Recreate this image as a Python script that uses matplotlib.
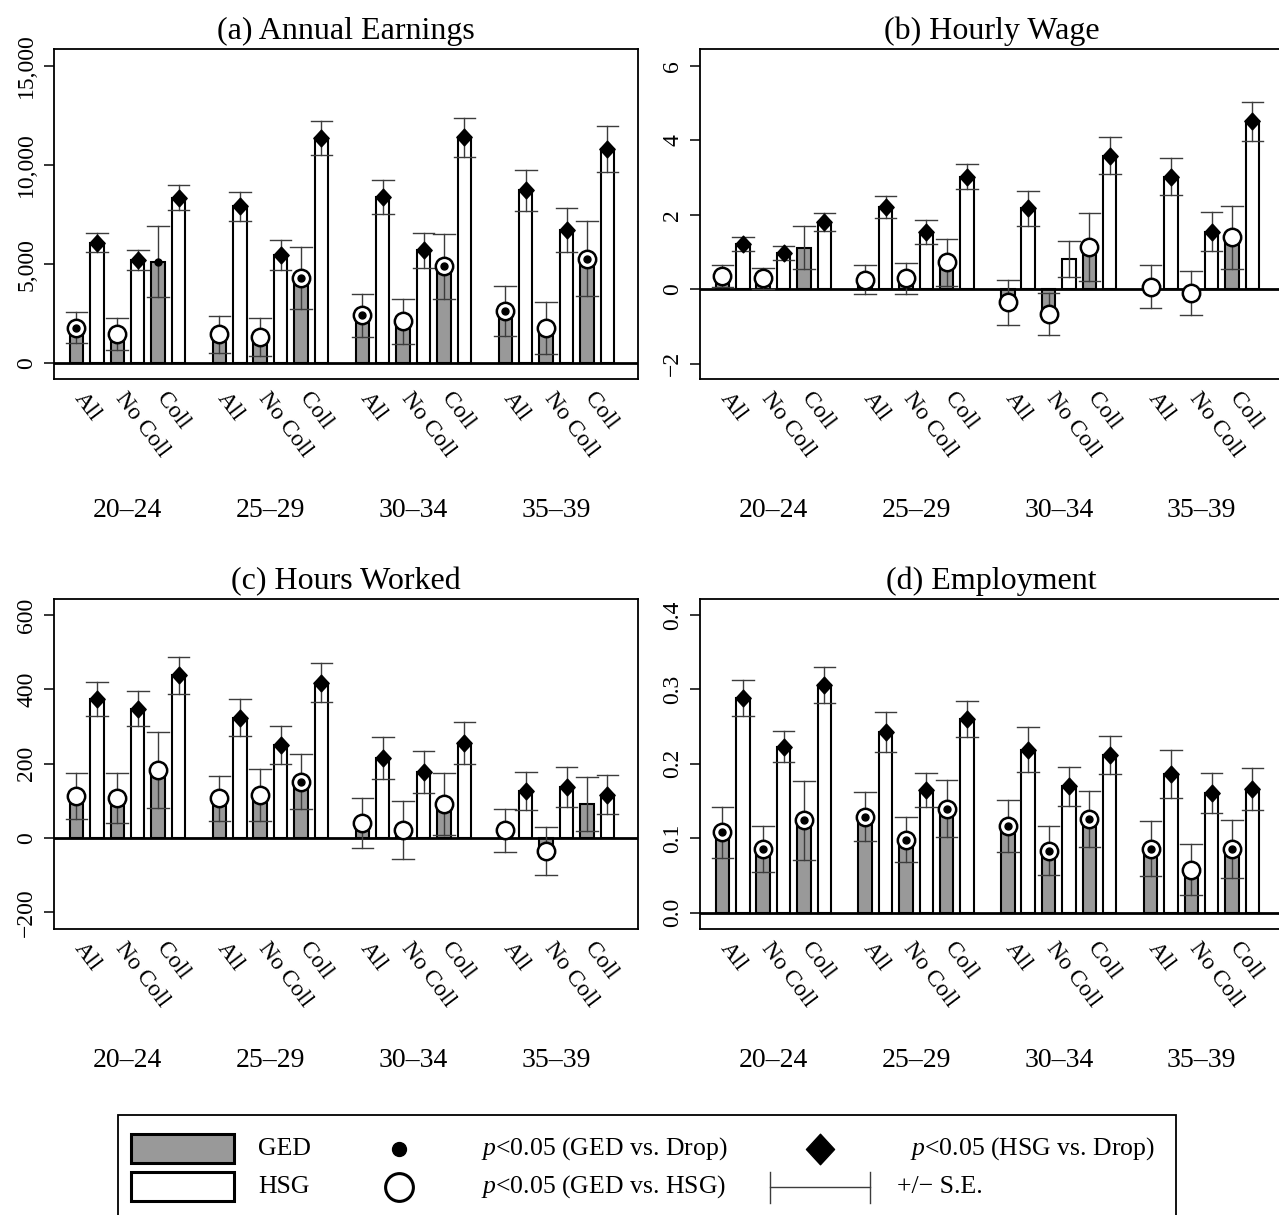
import matplotlib
matplotlib.use('Agg')
import matplotlib.pyplot as plt
import matplotlib.transforms as mtransforms
from matplotlib.path import Path
from matplotlib.patches import Rectangle
import numpy as np

plt.rcParams['font.family'] = ['Liberation Serif', 'DejaVu Serif']
plt.rcParams['mathtext.fontset'] = 'custom'
plt.rcParams['mathtext.rm'] = 'Liberation Serif'
plt.rcParams['mathtext.it'] = 'Liberation Serif:italic'

ages = ['20–24', '25–29', '30–34', '35–39']
groups = ['All', 'No Coll', 'Coll']

# each array: 20-24 (All, No Coll, Coll), 25-29 (...), 30-34 (...), 35-39 (...)
# (a) Annual Earnings
earn_ged = [1790, 1462, 5130, 1462, 1320, 4300, 2410, 2110, 4880, 2620, 1780, 5275]
earn_ged_se = [780, 806, 1780, 925, 950, 1547, 1067, 1135, 1622, 1252, 1328, 1874]
earn_hsg = [6080, 5205, 8350, 7905, 5445, 11370, 8380, 5690, 11385, 8712, 6720, 10788]
earn_hsg_se = [490, 496, 630, 731, 748, 866, 840, 900, 966, 1051, 1118, 1151]
earn_ged_sig = ['b', 'h', 'd', 'h', 'h', 'b', 'b', 'h', 'b', 'b', 'h', 'b']
earn_hsg_sig = [1] * 12

# (b) Hourly Wage
wage_ged = [0.36, 0.29, 1.11, 0.25, 0.29, 0.72, -0.35, -0.66, 1.14, 0.07, -0.10, 1.39]
wage_ged_se = [0.29, 0.29, 0.58, 0.39, 0.42, 0.62, 0.61, 0.56, 0.92, 0.58, 0.59, 0.84]
wage_hsg = [1.22, 0.97, 1.80, 2.20, 1.54, 3.02, 2.17, 0.82, 3.59, 3.02, 1.55, 4.51]
wage_hsg_se = [0.18, 0.18, 0.24, 0.30, 0.33, 0.33, 0.46, 0.48, 0.49, 0.50, 0.52, 0.53]
wage_ged_sig = ['h', 'h', '', 'h', 'h', 'h', 'h', 'h', 'h', 'h', 'h', 'h']
wage_hsg_sig = [1, 1, 1, 1, 1, 1, 1, 0, 1, 1, 1, 1]

# (c) Hours Worked
hours_ged = [113, 107, 184, 107, 116, 152, 40, 22, 92, 21, -35, 92]
hours_ged_se = [62, 67, 102, 60, 69, 75, 68, 78, 84, 58, 65, 73]
hours_hsg = [375, 348, 438, 324, 251, 418, 215, 177, 256, 127, 137, 117]
hours_hsg_se = [46, 47, 50, 49, 51, 52, 56, 57, 57, 51, 53, 52]
hours_ged_sig = ['h', 'h', 'h', 'h', 'h', 'b', 'h', 'h', 'h', 'h', 'h', '']
hours_hsg_sig = [1] * 12

# (d) Employment
emp_ged = [0.108, 0.086, 0.124, 0.129, 0.098, 0.140, 0.116, 0.083, 0.126, 0.086, 0.058, 0.085]
emp_ged_se = [0.034, 0.031, 0.053, 0.033, 0.030, 0.038, 0.035, 0.033, 0.038, 0.037, 0.034, 0.039]
emp_hsg = [0.288, 0.223, 0.306, 0.243, 0.165, 0.260, 0.219, 0.170, 0.212, 0.186, 0.161, 0.166]
emp_hsg_se = [0.024, 0.021, 0.024, 0.027, 0.023, 0.024, 0.030, 0.026, 0.026, 0.032, 0.027, 0.028]
emp_ged_sig = ['b'] * 10 + ['h', 'b']
emp_hsg_sig = [1] * 12

GRAY = '#999999'
ERR = '#3c3c3c'

diamond = Path([(0, 1), (0.92, 0), (0, -1), (-0.92, 0), (0, 1)],
               [Path.MOVETO, Path.LINETO, Path.LINETO, Path.LINETO, Path.CLOSEPOLY])

x_ged = np.array([g * 7 + 2 * k for g in range(4) for k in range(3)], dtype=float)
x_hsg = x_ged + 1


def errbars(ax, xs, vals, ses):
    for x, v, s in zip(xs, vals, ses):
        ax.plot([x, x], [v - s, v + s], color=ERR, lw=1.0, zorder=4)
        for yy in (v - s, v + s):
            ax.plot([x - 0.53, x + 0.53], [yy, yy], color=ERR, lw=1.0, zorder=4)


def draw_panel(ax, title, ged, ged_se, hsg, hsg_se, ged_sig, hsg_sig,
               ylim, yticks, yticklabels):
    ax.bar(x_ged, ged, width=0.66, color=GRAY, edgecolor='black', linewidth=1.5, zorder=2)
    ax.bar(x_hsg, hsg, width=0.66, color='white', edgecolor='black', linewidth=1.5, zorder=2)
    ax.axhline(0, color='black', lw=2, zorder=3)
    errbars(ax, x_ged, ged, ged_se)
    errbars(ax, x_hsg, hsg, hsg_se)

    for x, v, s in zip(x_ged, ged, ged_sig):
        if s in ('h', 'b'):
            ax.plot(x, v, 'o', ms=12.5, mfc='white', mec='black', mew=1.8, zorder=5)
        if s in ('d', 'b'):
            ax.plot(x, v, 'o', ms=5, mfc='black', mec='black', zorder=6)
    for x, v, s in zip(x_hsg, hsg, hsg_sig):
        if s:
            ax.plot(x, v, marker=diamond, ms=12, color='black', zorder=5)

    ax.set_xlim(-1.1, 27.5)
    ax.set_ylim(*ylim)
    ax.set_xticks([])
    ax.set_yticks(yticks)
    ax.set_yticklabels(yticklabels, rotation=90, va='center', fontsize=17)
    ax.tick_params(axis='y', length=7, width=1.1, pad=5)
    for sp in ax.spines.values():
        sp.set_linewidth(1.3)
    ax.set_title(title, fontsize=23, pad=7)

    trans = mtransforms.blended_transform_factory(ax.transData, ax.transAxes)
    for g in range(4):
        for k, lab in enumerate(groups):
            ax.text(g * 7 + 2 * k + 0.5, -0.027, lab, transform=trans,
                    rotation=-53, rotation_mode='anchor', ha='left', va='top',
                    fontsize=17)
        ax.text(g * 7 + 2.5, -0.397, ages[g], transform=trans,
                ha='center', va='center', fontsize=20)


fig = plt.figure(figsize=(12.79, 12.15), dpi=100)
W, H = 1279, 1215


def px_axes(left, top, right, bottom):
    return fig.add_axes([left / W, 1 - bottom / H, (right - left) / W, (bottom - top) / H])


ax_a = px_axes(54, 49, 638, 379)
ax_b = px_axes(700, 49, 1283, 379)
ax_c = px_axes(54, 599, 638, 929)
ax_d = px_axes(700, 599, 1283, 929)

draw_panel(ax_a, '(a) Annual Earnings', earn_ged, earn_ged_se, earn_hsg, earn_hsg_se,
           earn_ged_sig, earn_hsg_sig, (-791, 15842),
           [0, 5000, 10000, 15000], ['0', '5,000', '10,000', '15,000'])
draw_panel(ax_b, '(b) Hourly Wage', wage_ged, wage_ged_se, wage_hsg, wage_hsg_se,
           wage_ged_sig, wage_hsg_sig, (-2.41, 6.45),
           [-2, 0, 2, 4, 6], ['−2', '0', '2', '4', '6'])
draw_panel(ax_c, '(c) Hours Worked', hours_ged, hours_ged_se, hours_hsg, hours_hsg_se,
           hours_ged_sig, hours_hsg_sig, (-244.5, 643),
           [-200, 0, 200, 400, 600], ['−200', '0', '200', '400', '600'])
draw_panel(ax_d, '(d) Employment', emp_ged, emp_ged_se, emp_hsg, emp_hsg_se,
           emp_ged_sig, emp_hsg_sig, (-0.0219, 0.4215),
           [0, 0.1, 0.2, 0.3, 0.4], ['0.0', '0.1', '0.2', '0.3', '0.4'])

# legend drawn on an overlay in pixel coordinates
lg = fig.add_axes([0, 0, 1, 1], zorder=10)
lg.set_xlim(0, W)
lg.set_ylim(H, 0)
lg.axis('off')
lg.add_patch(Rectangle((118, 1115), 1058, 130, fc='white', ec='black', lw=1.3))
lg.add_patch(Rectangle((131, 1134), 103, 29, fc=GRAY, ec='black', lw=2.2))
lg.add_patch(Rectangle((131, 1172), 103, 29, fc='white', ec='black', lw=2.2))
fs = 18.5
lg.text(258, 1149, 'GED', fontsize=fs, va='center', ha='left')
lg.text(258, 1187, 'HSG', fontsize=fs, va='center', ha='left')
lg.plot(399, 1149, 'o', ms=10, color='black')
lg.plot(399, 1187, 'o', ms=20, mfc='white', mec='black', mew=2.2)
lg.text(481, 1149, r'$\it{p}$<0.05 (GED vs. Drop)', fontsize=fs, va='center', ha='left')
lg.text(481, 1187, r'$\it{p}$<0.05 (GED vs. HSG)', fontsize=fs, va='center', ha='left')
lg.plot(820, 1149, marker=diamond, ms=22, color='black')
lg.plot([770, 870], [1187, 1187], color=ERR, lw=1.0)
lg.plot([770, 770], [1172, 1203], color=ERR, lw=1.0)
lg.plot([870, 870], [1172, 1203], color=ERR, lw=1.0)
lg.text(910, 1149, r'$\it{p}$<0.05 (HSG vs. Drop)', fontsize=fs, va='center', ha='left')
lg.text(897, 1187, '+/− S.E.', fontsize=fs, va='center', ha='left')

fig.savefig('out.png', dpi=100)
